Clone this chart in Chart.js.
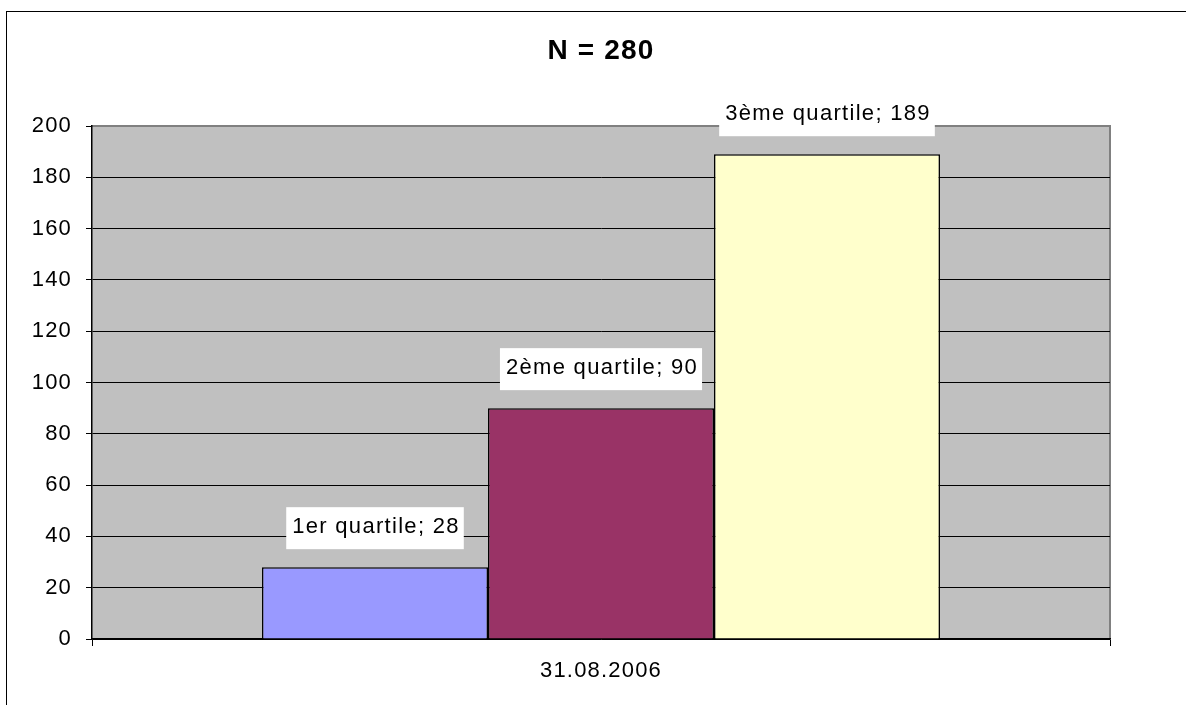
<!DOCTYPE html>
<html>
<head>
<meta charset="utf-8">
<script src="https://cdn.jsdelivr.net/npm/chart.js@4/dist/chart.umd.min.js"></script>
<style>
  html, body { margin: 0; padding: 0; background: #fff; }
  #wrap { width: 1186px; height: 705px; }
</style>
</head>
<body>
<div id="wrap"><canvas id="myChart" width="1186" height="705"></canvas></div>
<script>
// Chart data
var categories = ['31.08.2006'];
var seriesNames = ['1er quartile', '2ème quartile', '3ème quartile'];
var seriesValues = [28, 90, 189];
var seriesColors = ['#9999FF', '#993366', '#FFFFCC'];
var yTicks = [0, 20, 40, 60, 80, 100, 120, 140, 160, 180, 200];
var chartTitle = 'N = 280';

var fontFamily = '"Liberation Sans", Arial, sans-serif';
var spacing = '1.2px';

// The old spreadsheet text is a little spaced out
const letterSpacing = {
    id: 'letterSpacing',
    beforeLayout(chart) { chart.ctx.letterSpacing = spacing; },
    beforeDraw(chart) { chart.ctx.letterSpacing = spacing; }
};

// Gray plot area with a gray frame, outer border and title
const plotBackground = {
    id: 'plotBackground',
    beforeDraw(chart) {
        const ctx = chart.ctx;
        const a = chart.chartArea;
        ctx.save();
        ctx.fillStyle = '#FFFFFF';
        ctx.fillRect(0, 0, chart.width, chart.height);
        // outer frame
        ctx.strokeStyle = '#000000';
        ctx.lineWidth = 1;
        ctx.strokeRect(6.5, 11.5, chart.width + 10, chart.height + 10);
        // title
        ctx.fillStyle = '#000000';
        ctx.font = 'bold 28px ' + fontFamily;
        ctx.textAlign = 'center';
        ctx.textBaseline = 'middle';
        ctx.fillText(chartTitle, (a.left + a.right) / 2, 51);
        // plot area
        ctx.fillStyle = '#C0C0C0';
        ctx.fillRect(a.left, a.top, a.right - a.left, a.bottom - a.top);
        ctx.strokeStyle = '#808080';
        ctx.lineWidth = 2;
        ctx.beginPath();
        ctx.moveTo(a.left, a.top);
        ctx.lineTo(a.right, a.top);
        ctx.lineTo(a.right, a.bottom);
        ctx.stroke();
        ctx.restore();
    }
};

// White boxed labels "name; value" above each bar
const barLabels = {
    id: 'barLabels',
    afterDatasetsDraw(chart) {
        const ctx = chart.ctx;
        ctx.save();
        ctx.font = '22px ' + fontFamily;
        ctx.letterSpacing = '1.3px';
        ctx.textAlign = 'center';
        ctx.textBaseline = 'middle';
        chart.data.datasets.forEach(function(ds, i) {
            const bar = chart.getDatasetMeta(i).data[0];
            const text = ds.label + '; ' + ds.data[0];
            const w = ctx.measureText(text).width + 10;
            const h = 42;
            const bottom = bar.y - 18;
            ctx.fillStyle = '#FFFFFF';
            ctx.fillRect(bar.x - w / 2, bottom - h, w, h);
            ctx.fillStyle = '#000000';
            ctx.fillText(text, bar.x + 1, bottom - h / 2 - 1);
        });
        ctx.restore();
    }
};

const ctx = document.getElementById('myChart').getContext('2d');
const myChart = new Chart(ctx, {
    type: 'bar',
    data: {
        labels: categories,
        datasets: seriesNames.map(function(name, i) {
            return {
                label: name,
                data: [seriesValues[i]],
                backgroundColor: seriesColors[i],
                borderColor: '#000000',
                borderWidth: 1.5,
                barPercentage: 1,
                categoryPercentage: 0.666
            };
        })
    },
    options: {
        responsive: false,
        animation: false,
        layout: { padding: { left: 0, right: 76, top: 126, bottom: 0 } },
        plugins: {
            legend: { display: false },
            tooltip: { enabled: false },
            title: { display: false }
        },
        scales: {
            x: {
                offset: true,
                grid: { offset: true, drawOnChartArea: false, drawTicks: true, tickLength: 7, color: '#000000' },
                border: { display: true, color: '#000000', width: 1.5 },
                ticks: { color: '#000000', padding: 12, font: { family: fontFamily, size: 22 } },
                afterFit: function(scale) { scale.height = 66; }
            },
            y: {
                min: 0,
                max: 200,
                afterBuildTicks: function(scale) {
                    scale.ticks = yTicks.map(function(v) { return { value: v }; });
                },
                grid: {
                    color: function(c) { return c.tick && c.tick.value === 200 ? '#808080' : '#000000'; },
                    lineWidth: 1,
                    tickLength: 6,
                    tickColor: '#000000'
                },
                border: { display: true, color: '#000000', width: 1.5 },
                ticks: { color: '#000000', padding: 14, font: { family: fontFamily, size: 22 } },
                afterFit: function(scale) { scale.width = 92; }
            }
        }
    },
    plugins: [letterSpacing, plotBackground, barLabels]
});
</script>
</body>
</html>
